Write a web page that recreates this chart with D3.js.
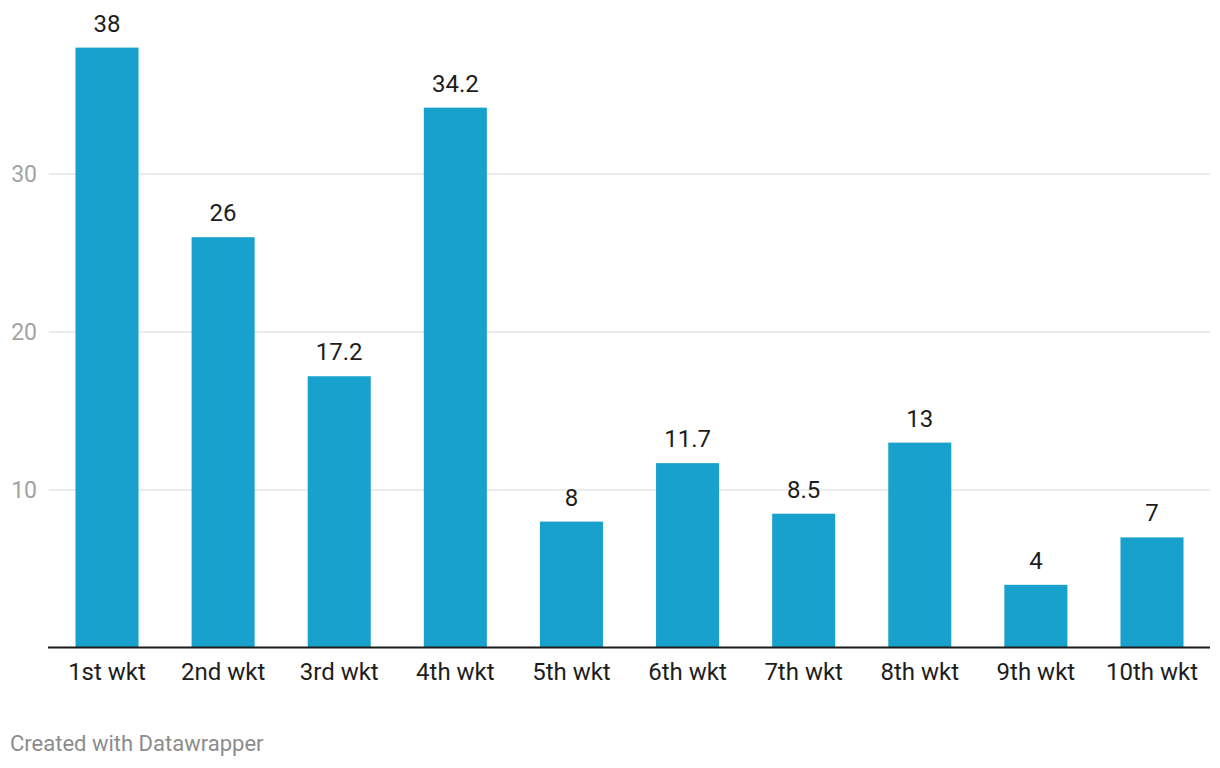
<!DOCTYPE html>
<html>
<head>
<meta charset="utf-8">
<script src="https://cdn.jsdelivr.net/npm/d3@7"></script>
<style>
body { margin: 0; background: #fff; font-family: Roboto, sans-serif; }
</style>
</head>
<body>
<svg width="1220" height="768"></svg>
<script>
const categories = ["1st wkt", "2nd wkt", "3rd wkt", "4th wkt", "5th wkt", "6th wkt", "7th wkt", "8th wkt", "9th wkt", "10th wkt"];
const values = [38, 26, 17.2, 34.2, 8, 11.7, 8.5, 13, 4, 7];
const yTicks = [10, 20, 30];

const svg = d3.select("svg");

const plotLeft = 49, plotRight = 1210, plotBottom = 648;

const x = d3.scaleBand()
	.domain(categories)
	.range([plotLeft, plotRight])
	.paddingInner(0.457)
	.paddingOuter(0.228);

const y = d3.scaleLinear()
	.domain([0, 41])
	.range([plotBottom, plotBottom - 41 * 15.8]);

// gridlines
svg.append("g")
	.selectAll("line")
	.data(yTicks)
	.join("line")
	.attr("x1", plotLeft)
	.attr("x2", plotRight)
	.attr("y1", d => y(d))
	.attr("y2", d => y(d))
	.attr("stroke", "#e6e6e6")
	.attr("stroke-width", 1.5);

svg.append("g")
	.selectAll("text")
	.data(yTicks)
	.join("text")
	.attr("x", 37)
	.attr("y", d => y(d))
	.attr("dy", "0.35em")
	.attr("text-anchor", "end")
	.attr("fill", "#a3a3a3")
	.attr("font-size", 23)
	.text(d => d);

// bars
svg.append("g")
	.selectAll("rect")
	.data(values)
	.join("rect")
	.attr("x", (d, i) => x(categories[i]))
	.attr("width", x.bandwidth())
	.attr("y", d => y(d))
	.attr("height", d => y(0) - y(d))
	.attr("fill", "#18a1cd");

// value labels
svg.append("g")
	.selectAll("text")
	.data(values)
	.join("text")
	.attr("x", (d, i) => x(categories[i]) + x.bandwidth() / 2)
	.attr("y", d => y(d) - 16)
	.attr("text-anchor", "middle")
	.attr("fill", "#1d1d1d")
	.attr("font-size", 24)
	.text(d => d);

// baseline
svg.append("line")
	.attr("x1", plotLeft - 1)
	.attr("x2", plotRight)
	.attr("y1", y(0) - 0.5)
	.attr("y2", y(0) - 0.5)
	.attr("stroke", "#1d1d1d")
	.attr("stroke-width", 2);

// category labels
svg.append("g")
	.selectAll("text")
	.data(categories)
	.join("text")
	.attr("x", d => x(d) + x.bandwidth() / 2)
	.attr("y", 680)
	.attr("text-anchor", "middle")
	.attr("fill", "#1d1d1d")
	.attr("font-size", 24)
	.text(d => d);

svg.append("text")
	.attr("x", 10)
	.attr("y", 751)
	.attr("fill", "#8c8c8c")
	.attr("font-size", 22)
	.text("Created with Datawrapper");
</script>
</body>
</html>
